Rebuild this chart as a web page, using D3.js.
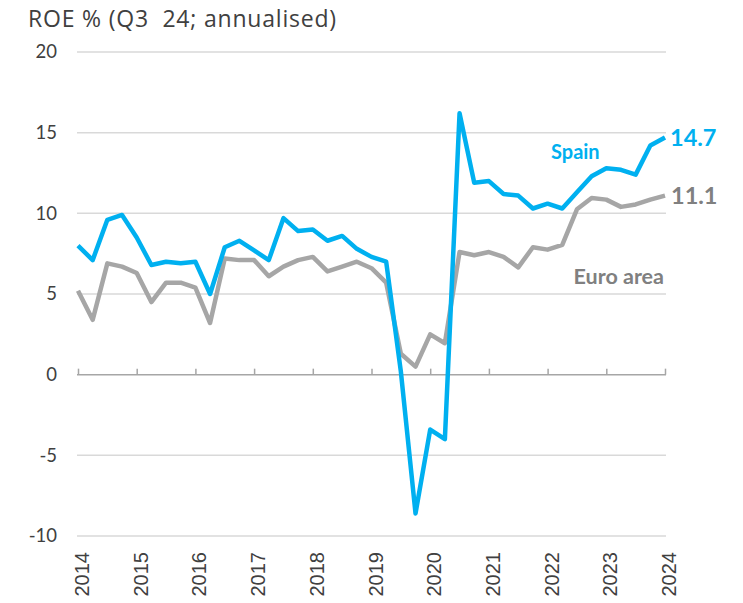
<!DOCTYPE html>
<html>
<head>
<meta charset="utf-8">
<script src="https://cdn.jsdelivr.net/npm/d3@7"></script>
<style>
  body { margin: 0; background: #fff; }
  svg { display: block; font-family: Lato, "Open Sans", sans-serif; }
</style>
</head>
<body>
<div id="canvas"></div>
<script>
// quarterly ROE, Q3 2014 .. Q3 2024
const spain = [
  8.0, 7.1, 9.6, 9.9, 8.5, 6.8, 7.0, 6.9, 7.0, 5.0, 7.9, 8.3, 7.7,
  7.1, 9.7, 8.9, 9.0, 8.3, 8.6, 7.8, 7.3, 7.0, 0.2, -8.6, -3.4, -4.0,
  16.2, 11.9, 12.0, 11.2, 11.1, 10.3, 10.6, 10.3, 11.3, 12.3, 12.8, 12.7,
  12.4, 14.2, 14.7
];
const euroArea = [
  5.2, 3.4, 6.9, 6.7, 6.3, 4.5, 5.7, 5.7, 5.4, 3.2, 7.2, 7.1, 7.1,
  6.1, 6.7, 7.1, 7.3, 6.4, 6.7, 7.0, 6.6, 5.7, 1.3, 0.5, 2.5, 1.95,
  7.6, 7.4, 7.6, 7.3, 6.65, 7.9, 7.75, 8.05, 10.25, 10.95, 10.85, 10.4,
  10.55, 10.85, 11.1
];
const yearLabels = ["2014", "2015", "2016", "2017", "2018", "2019", "2020", "2021", "2022", "2023", "2024"];
const yTicks = [-10, -5, 0, 5, 10, 15, 20];

const width = 743;
const height = 603;

const svg = d3
  .select("#canvas")
  .append("svg")
  .attr("width", width)
  .attr("height", height);

const x = d3.scaleLinear().domain([0, spain.length - 1]).range([78, 665]);
const y = d3.scaleLinear().domain([-10, 20]).range([536, 52]);

// title
svg
  .append("text")
  .attr("x", 28)
  .attr("y", 27)
  .attr("fill", "#404040")
  .style("font-family", "'Open Sans', sans-serif")
  .style("font-size", "23px")
  .style("letter-spacing", "0.8px")
  .style("white-space", "pre")
  .text("ROE % (Q3  24; annualised)");

// grid
svg
  .append("g")
  .selectAll("line")
  .data(yTicks.filter((d) => d != 0))
  .join("line")
  .attr("x1", 77)
  .attr("x2", 666)
  .attr("y1", (d) => y(d))
  .attr("y2", (d) => y(d))
  .attr("stroke", "#d9d9d9")
  .attr("stroke-width", 1.5);

// y labels
svg
  .append("g")
  .selectAll("text")
  .data(yTicks)
  .join("text")
  .attr("x", 57)
  .attr("y", (d) => y(d))
  .attr("dy", "0.35em")
  .attr("text-anchor", "end")
  .attr("fill", "#404040")
  .style("font-size", "18.5px")
  .text((d) => d);

// zero axis with upward ticks
const xAxis = d3
  .axisTop(x)
  .tickValues(yearLabels.map((d, i) => i * 4))
  .tickSize(6)
  .tickSizeOuter(0)
  .tickFormat("");
const gx = svg
  .append("g")
  .attr("transform", "translate(0," + y(0) + ")")
  .call(xAxis);
gx.select(".domain").attr("stroke", "#a6a6a6").attr("stroke-width", 1.5).attr("d", "M77,0H666");
gx.selectAll(".tick line").attr("stroke", "#a6a6a6").attr("stroke-width", 1.5);

// year labels at the bottom, rotated
svg
  .append("g")
  .selectAll("text")
  .data(yearLabels)
  .join("text")
  .attr("transform", (d, i) => "translate(" + (x(i * 4) + 4) + ",552) rotate(-90)")
  .attr("dy", "0.35em")
  .attr("text-anchor", "end")
  .attr("fill", "#404040")
  .style("font-family", "'Liberation Sans', Arial, sans-serif")
  .style("font-size", "20px")
  .text((d) => d);

const line = d3
  .line()
  .x((d, i) => x(i))
  .y((d) => y(d));

svg
  .append("path")
  .datum(euroArea)
  .attr("fill", "none")
  .attr("stroke", "#a6a6a6")
  .attr("stroke-width", 4.5)
  .attr("stroke-linejoin", "round")
  .attr("d", line);

svg
  .append("path")
  .datum(spain)
  .attr("fill", "none")
  .attr("stroke", "#00b0f0")
  .attr("stroke-width", 4.5)
  .attr("stroke-linejoin", "round")
  .attr("d", line);

// end labels
const last = spain.length - 1;
svg
  .append("text")
  .attr("x", x(last) + 5)
  .attr("y", y(spain[last]))
  .attr("dy", "0.35em")
  .attr("fill", "#00b0f0")
  .style("font-size", "23.5px")
  .style("font-weight", "bold")
  .text(spain[last].toFixed(1));

svg
  .append("text")
  .attr("x", x(last) + 6)
  .attr("y", y(euroArea[last]))
  .attr("dy", "0.35em")
  .attr("fill", "#808080")
  .style("font-size", "23.5px")
  .style("font-weight", "bold")
  .text(euroArea[last].toFixed(1));

svg
  .append("text")
  .attr("x", 551)
  .attr("y", 159)
  .attr("fill", "#00b0f0")
  .style("font-size", "20px")
  .style("font-weight", "bold")
  .text("Spain");

svg
  .append("text")
  .attr("x", 664)
  .attr("y", 284)
  .attr("text-anchor", "end")
  .attr("fill", "#808080")
  .style("font-size", "21.5px")
  .style("font-weight", "bold")
  .text("Euro area");
</script>
</body>
</html>
